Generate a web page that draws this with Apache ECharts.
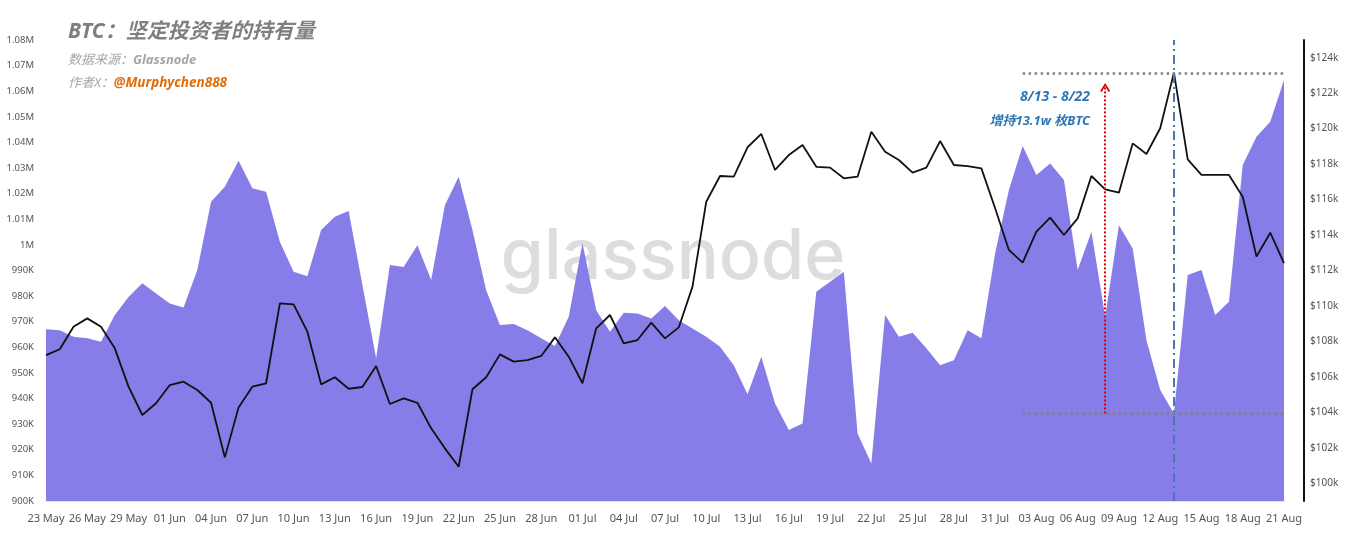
<!DOCTYPE html>
<html>
<head>
<meta charset="utf-8">
<script src="https://cdn.jsdelivr.net/npm/echarts@6/dist/echarts.min.js"></script>
<style>
  html, body { margin: 0; padding: 0; background: #fff; }
  #chart { width: 1355px; height: 546px; }
</style>
</head>
<body>
<div id="chart"></div>
<script>
const categories = [
  '23 May','24 May','25 May','26 May','27 May','28 May','29 May','30 May','31 May',
  '01 Jun','02 Jun','03 Jun','04 Jun','05 Jun','06 Jun','07 Jun','08 Jun','09 Jun','10 Jun',
  '11 Jun','12 Jun','13 Jun','14 Jun','15 Jun','16 Jun','17 Jun','18 Jun','19 Jun','20 Jun',
  '21 Jun','22 Jun','23 Jun','24 Jun','25 Jun','26 Jun','27 Jun','28 Jun','29 Jun','30 Jun',
  '01 Jul','02 Jul','03 Jul','04 Jul','05 Jul','06 Jul','07 Jul','08 Jul','09 Jul','10 Jul',
  '11 Jul','12 Jul','13 Jul','14 Jul','15 Jul','16 Jul','17 Jul','18 Jul','19 Jul','20 Jul',
  '21 Jul','22 Jul','23 Jul','24 Jul','25 Jul','26 Jul','27 Jul','28 Jul','29 Jul','30 Jul','31 Jul',
  '01 Aug','02 Aug','03 Aug','04 Aug','05 Aug','06 Aug','07 Aug','08 Aug','09 Aug','10 Aug',
  '11 Aug','12 Aug','13 Aug','14 Aug','15 Aug','16 Aug','17 Aug','18 Aug','19 Aug','20 Aug','21 Aug'
];

// Long-term holder supply (thousand BTC)
const holdingsK = [
  967.1, 966.7, 964.1, 963.5, 962.2, 972.6, 979.7, 985.0, 981.0, 977.1,
  975.6, 990.2, 1016.8, 1022.7, 1032.9, 1022.1, 1020.7, 1001.2, 989.5, 987.8,
  1005.8, 1011.0, 1013.2, 984.4, 955.7, 992.1, 991.4, 999.9, 986.3, 1015.5,
  1026.6, 1005.8, 982.3, 968.7, 969.1, 966.7, 963.5, 960.5, 971.9, 1000.6,
  974.5, 966.1, 973.5, 973.2, 971.3, 976.1, 970.6, 967.4, 964.1, 960.2,
  953.0, 941.7, 956.3, 938.1, 927.7, 930.3, 981.7, 985.6, 989.5, 926.4,
  914.6, 972.6, 964.1, 965.7, 959.6, 953.0, 955.0, 966.7, 963.5, 996.7,
  1021.4, 1038.6, 1027.3, 1031.8, 1025.3, 990.2, 1005.1, 971.9, 1007.7, 998.6,
  962.8, 943.3, 934.2, 988.2, 990.2, 972.6, 977.8, 1031.2, 1042.2, 1048.1,
  1064.4
];

// BTC price (thousand USD)
const btcPriceK = [
  107.23, 107.56, 108.83, 109.30, 108.83, 107.61, 105.45, 103.85, 104.51, 105.54,
  105.73, 105.26, 104.54, 101.46, 104.28, 105.45, 105.64, 110.15, 110.09, 108.55,
  105.58, 105.98, 105.33, 105.43, 106.61, 104.47, 104.79, 104.54, 103.10, 101.97,
  100.93, 105.30, 105.98, 107.27, 106.86, 106.95, 107.18, 108.23, 107.14, 105.64,
  108.74, 109.49, 107.89, 108.08, 109.06, 108.17, 108.79, 111.09, 115.88, 117.33,
  117.29, 118.95, 119.70, 117.67, 118.51, 119.08, 117.85, 117.80, 117.20, 117.29,
  119.83, 118.70, 118.23, 117.52, 117.80, 119.30, 117.95, 117.89, 117.76, 115.51,
  113.16, 112.44, 114.19, 114.98, 114.00, 114.94, 117.33, 116.58, 116.39, 119.17,
  118.57, 120.02, 123.16, 118.27, 117.39, 117.39, 117.39, 116.16, 112.78, 114.13,
  112.41
];

const rightTickValues = [100, 102, 104, 106, 108, 110, 112, 114, 116, 118, 120, 122, 124];

// annotation anchors
const annStartIdx = 71, annEndIdx = 90, arrowIdx = 77, peakIdx = 82;
const holdLow = 934.2, holdArrowTop = 1061.5, btcPeakLevel = 123.1;

const chart = echarts.init(document.getElementById('chart'), null, { renderer: 'canvas' });

const labelFont = "'Segoe UI', 'Noto Sans', 'DejaVu Sans', sans-serif";
const cjkFont = "'Noto Sans', 'Noto Sans CJK SC', sans-serif";

const option = {
  animation: false,
  backgroundColor: '#ffffff',
  grid: { left: 46, right: 71, top: 40, bottom: 45, containLabel: false },
  xAxis: {
    type: 'category',
    data: categories,
    boundaryGap: false,
    axisLine: { show: true, lineStyle: { color: '#e3e3e3', width: 2 } },
    axisTick: { show: false },
    axisLabel: { interval: 2, color: '#555', fontSize: 11, margin: 12, fontFamily: labelFont },
    splitLine: { show: false },
    z: 1
  },
  yAxis: [
    {
      type: 'value', min: 900, max: 1080, interval: 10,
      axisLine: { show: false }, axisTick: { show: false },
      splitLine: { show: false },
      axisLabel: {
        color: '#555', fontSize: 9.5, margin: 12, fontFamily: labelFont,
        formatter: v => v >= 1000 ? (Math.round(v) / 1000) + 'M' : Math.round(v) + 'K'
      }
    },
    {
      type: 'value', min: 99, max: 125, position: 'right', offset: 20,
      axisLine: { show: true, lineStyle: { color: '#111', width: 2 } },
      axisTick: { show: false },
      splitLine: { show: false },
      axisLabel: {
        customValues: rightTickValues,
        color: '#555', fontSize: 10, margin: 6, fontFamily: labelFont,
        formatter: v => '$' + v + 'k'
      }
    }
  ],
  graphic: [
    {
      type: 'text', z: 0, zlevel: 0, silent: true,
      x: 673, y: 258,
      style: {
        text: 'glassnode', fill: '#dddddd', fontSize: 70, fontWeight: 500,
        fontFamily: "Inter, Lato, sans-serif", align: 'center', verticalAlign: 'middle'
      }
    },
    {
      type: 'text', z: 100, x: 68, y: 32, silent: true,
      style: {
        text: 'BTC：坚定投资者的持有量', fill: '#7f7f7f', fontSize: 21, fontWeight: 'bold',
        fontStyle: 'italic', fontFamily: cjkFont, verticalAlign: 'middle'
      }
    },
    {
      type: 'text', z: 100, x: 68, y: 60, silent: true,
      style: {
        text: '{a|数据来源：}{b|Glassnode}', verticalAlign: 'middle',
        rich: {
          a: { fill: '#a6a6a6', fontSize: 13, fontStyle: 'italic', fontFamily: cjkFont },
          b: { fill: '#a6a6a6', fontSize: 13, fontStyle: 'italic', fontWeight: 'bold', fontFamily: cjkFont }
        }
      }
    },
    {
      type: 'text', z: 100, x: 68, y: 83, silent: true,
      style: {
        text: '{a|作者X：}{b|@Murphychen888}', verticalAlign: 'middle',
        rich: {
          a: { fill: '#a6a6a6', fontSize: 13, fontStyle: 'italic', fontFamily: cjkFont },
          b: { fill: '#e36c0a', fontSize: 13.5, fontStyle: 'italic', fontWeight: 'bold', fontFamily: cjkFont }
        }
      }
    },
    {
      type: 'text', z: 100, x: 1090, y: 97, silent: true,
      style: {
        text: '8/13 - 8/22', fill: '#2e75b6', fontSize: 14, fontWeight: 'bold', fontStyle: 'italic',
        fontFamily: cjkFont, align: 'right', verticalAlign: 'middle'
      }
    },
    {
      type: 'text', z: 100, x: 1090, y: 121, silent: true,
      style: {
        text: '增持13.1w 枚BTC', fill: '#2e75b6', fontSize: 13, fontWeight: 'bold', fontStyle: 'italic',
        fontFamily: cjkFont, align: 'right', verticalAlign: 'middle'
      }
    }
  ],
  series: [
    {
      name: '坚定投资者持有量',
      type: 'line',
      yAxisIndex: 0,
      data: holdingsK,
      symbol: 'none',
      lineStyle: { width: 0 },
      areaStyle: { color: '#877de8', opacity: 1, origin: 'start' },
      z: 10,
      markLine: {
        z: 20,
        silent: true,
        symbol: ['none', 'none'],
        label: { show: false },
        emphasis: { disabled: true },
        data: [
          [
            { coord: [categories[annStartIdx], holdLow], lineStyle: { color: '#808080', width: 2.5, type: [2.5, 3.5] } },
            { coord: [categories[annEndIdx], holdLow] }
          ],
          [
            { coord: [categories[arrowIdx], holdLow], symbol: 'none',
              lineStyle: { color: '#e00000', width: 2, type: [2, 2] } },
            { coord: [categories[arrowIdx], holdArrowTop],
              symbol: 'path://M0,9 L5,0 L10,9 L8.4,10 L5,3.4 L1.6,10 Z', symbolSize: [10, 9] }
          ]
        ]
      }
    },
    {
      name: 'BTC价格',
      type: 'line',
      yAxisIndex: 1,
      data: btcPriceK,
      symbol: 'none',
      lineStyle: { color: '#111', width: 1.8 },
      z: 12,
      markLine: {
        z: 20,
        silent: true,
        symbol: ['none', 'none'],
        label: { show: false },
        emphasis: { disabled: true },
        data: [
          [
            { coord: [categories[annStartIdx], btcPeakLevel], lineStyle: { color: '#808080', width: 2.5, type: [2.5, 3.5] } },
            { coord: [categories[annEndIdx], btcPeakLevel] }
          ],
          { xAxis: categories[peakIdx], lineStyle: { color: '#4a78b0', width: 2, type: [9, 4, 2, 4] } }
        ]
      }
    }
  ]
};

chart.setOption(option);
</script>
</body>
</html>
